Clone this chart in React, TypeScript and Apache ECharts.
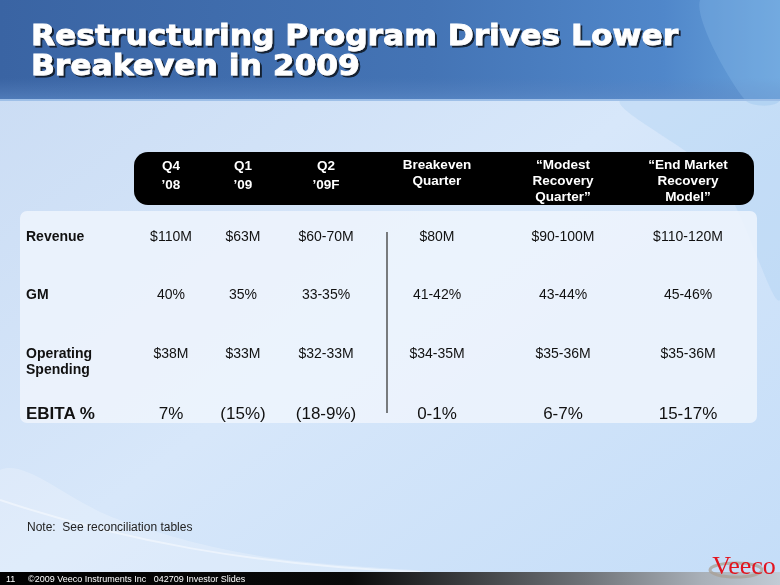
import React, { useEffect, useRef } from "react";
import * as echarts from "echarts";

// ---- Data ----
const titleLines = ["Restructuring Program Drives Lower", "Breakeven in 2009"];
const columnHeaders = [
  "Q4\n’08",
  "Q1\n’09",
  "Q2\n’09F",
  "Breakeven\nQuarter",
  "“Modest\nRecovery\nQuarter”",
  "“End Market\nRecovery\nModel”",
];
const rowLabels = ["Revenue", "GM", "Operating\nSpending", "EBITA %"];
const revenue = ["$110M", "$63M", "$60-70M", "$80M", "$90-100M", "$110-120M"];
const grossMargin = ["40%", "35%", "33-35%", "41-42%", "43-44%", "45-46%"];
const operatingSpending = ["$38M", "$33M", "$32-33M", "$34-35M", "$35-36M", "$35-36M"];
const ebitaPct = ["7%", "(15%)", "(18-9%)", "0-1%", "6-7%", "15-17%"];
const noteText = "Note:  See reconciliation tables";
const footerPage = "11";
const footerText = "©2009 Veeco Instruments Inc   042709 Investor Slides";
const logoText = "Veeco";

// ---- Layout (positions / styles, not data) ----
const W = 780;
const H = 585;
const colX = [171, 243, 326, 437, 563, 688];
const rowY = [236, 294, 353, 413];
const FONT = '"Liberation Sans", Arial, sans-serif';
const TITLE_FONT = '"DejaVu Sans", Verdana, sans-serif';

export default function App() {
  const ref = useRef<HTMLDivElement>(null);

  useEffect(() => {
    if (!ref.current) return;
    const chart = echarts.init(ref.current, undefined, { renderer: "svg", width: W, height: H });

    const els: any[] = [];
    const txt = (
      text: string,
      x: number,
      y: number,
      font: string,
      fill: string,
      align: string = "center",
      extraStyle: any = {},
      vAlign: string = "middle",
      extra: any = {}
    ) => ({
      type: "text",
      x,
      y,
      silent: true,
      ...extra,
      style: {
        text,
        font,
        fill,
        align,
        verticalAlign: vAlign,
        textAlign: align,
        textVerticalAlign: vAlign,
        ...extraStyle,
      },
    });

    // Main background
    els.push({
      type: "rect",
      shape: { x: 0, y: 0, width: W, height: H },
      style: {
        fill: {
          type: "linear", x: 0, y: 0, x2: 1, y2: 1,
          colorStops: [
            { offset: 0, color: "#c9dbf3" },
            { offset: 0.5, color: "#d7e7fa" },
            { offset: 1, color: "#c4ddf8" },
          ],
        },
      },
    });
    // Soft swooshes in background
    els.push({
      type: "polygon",
      shape: { points: [[0, 470], [120, 520], [260, 556], [420, 572], [0, 572]], smooth: 0.4 },
      style: { fill: "rgba(255,255,255,0.22)" },
    });
    els.push({
      type: "bezierCurve",
      shape: { x1: 0, y1: 500, cpx1: 120, cpy1: 540, x2: 420, y2: 572, cpx2: 250, cpy2: 565 },
      style: { stroke: "rgba(255,255,255,0.45)", lineWidth: 2, fill: null },
    });
    els.push({
      type: "polygon",
      shape: { points: [[620, 100], [780, 100], [780, 300], [720, 180]], smooth: 0.3 },
      style: { fill: "rgba(170,205,240,0.35)" },
    });

    // Title band
    els.push({
      type: "rect",
      shape: { x: 0, y: 0, width: W, height: 100 },
      style: {
        fill: {
          type: "linear", x: 0, y: 0, x2: 1, y2: 0,
          colorStops: [
            { offset: 0, color: "#3a64a3" },
            { offset: 0.55, color: "#4474b5" },
            { offset: 0.85, color: "#5087ca" },
            { offset: 1, color: "#68a2db" },
          ],
        },
      },
    });
    els.push({
      type: "rect",
      shape: { x: 0, y: 78, width: W, height: 22 },
      style: {
        fill: {
          type: "linear", x: 0, y: 0, x2: 0, y2: 1,
          colorStops: [
            { offset: 0, color: "rgba(90,130,190,0)" },
            { offset: 1, color: "rgba(95,140,200,0.6)" },
          ],
        },
      },
    });
    els.push({
      type: "polygon",
      shape: { points: [[700, 0], [780, 0], [780, 100], [745, 100]], smooth: 0.3 },
      style: { fill: "rgba(140,190,235,0.3)" },
    });
    els.push({
      type: "line",
      shape: { x1: 0, y1: 100, x2: W, y2: 100 },
      style: { stroke: "#9fc0e8", lineWidth: 2 },
    });

    // Title text (single element, two lines, with drop shadow)
    els.push(
      txt(
        titleLines.join("\n"),
        31,
        35 - 15,
        `bold 29px ${TITLE_FONT}`,
        "#ffffff",
        "left",
        {
          lineHeight: 30,
          stroke: "#ffffff",
          lineWidth: 0.8,
          textShadowColor: "rgba(15,20,35,0.9)",
          textShadowBlur: 1,
          textShadowOffsetX: 2,
          textShadowOffsetY: 2,
          shadowColor: "rgba(15,20,35,0.9)",
          shadowBlur: 1,
          shadowOffsetX: 2,
          shadowOffsetY: 2,
        },
        "top",
        { scaleX: 1.08 }
      )
    );

    // Header black rounded bar
    els.push({
      type: "rect",
      shape: { x: 134, y: 152, width: 620, height: 53, r: 14 },
      style: { fill: "#000000" },
    });
    columnHeaders.forEach((h, c) => {
      const nLines = h.split("\n").length;
      const lh = nLines === 2 && c < 3 ? 19.5 : 15.6;
      els.push(
        txt(h, colX[c], 165 - lh / 2, `bold 13.5px ${FONT}`, "#ffffff", "center", { lineHeight: lh }, "top")
      );
    });

    // Table body box
    els.push({
      type: "rect",
      shape: { x: 20, y: 211, width: 737, height: 212, r: 7 },
      style: { fill: "rgba(238,245,253,0.85)" },
    });

    // Vertical separator
    els.push({
      type: "line",
      shape: { x1: 387, y1: 232, x2: 387, y2: 413 },
      style: { stroke: "#3a3a3a", lineWidth: 1.3 },
    });

    const rows = [revenue, grossMargin, operatingSpending, ebitaPct];
    rows.forEach((vals, r) => {
      const isEbita = r === 3;
      const labelFont = isEbita ? `bold 17px ${FONT}` : `bold 14px ${FONT}`;
      const valFont = isEbita ? `17px ${FONT}` : `14px ${FONT}`;
      const lh = isEbita ? 20 : 15.6;
      els.push(
        txt(rowLabels[r], 26, rowY[r] - lh / 2, labelFont, "#111111", "left", { lineHeight: lh }, "top")
      );
      vals.forEach((v, c) => {
        els.push(txt(v, colX[c], rowY[r], valFont, "#111111"));
      });
    });

    // Note
    els.push(txt(noteText, 27, 527, `12px ${FONT}`, "#222222", "left"));

    // Footer bar
    els.push({
      type: "rect",
      shape: { x: 0, y: 572, width: W, height: 13 },
      style: {
        fill: {
          type: "linear", x: 0, y: 0, x2: 1, y2: 0,
          colorStops: [
            { offset: 0, color: "#000000" },
            { offset: 0.45, color: "#0a0a0a" },
            { offset: 0.75, color: "#6f7378" },
            { offset: 0.9, color: "#a9b0b8" },
            { offset: 1, color: "#c2cbd5" },
          ],
        },
      },
    });
    els.push(txt(footerPage, 6, 578.5, `9px ${FONT}`, "#ffffff", "left"));
    els.push(txt(footerText, 28, 578.5, `9px ${FONT}`, "#ffffff", "left"));

    // Veeco logo
    els.push({
      type: "ellipse",
      shape: { cx: 736, cy: 570, rx: 26, ry: 7 },
      style: { fill: "none", stroke: "rgba(170,160,150,0.75)", lineWidth: 3 },
    });
    els.push(txt(logoText, 744, 565, `26px "Liberation Serif", "Times New Roman", serif`, "#e3141f"));

    chart.setOption({
      animation: false,
      backgroundColor: "transparent",
      graphic: { elements: els },
    });

    return () => chart.dispose();
  }, []);

  return (
    <div
      ref={ref}
      style={{ position: "fixed", left: 0, top: 0, width: W, height: H }}
    />
  );
}
